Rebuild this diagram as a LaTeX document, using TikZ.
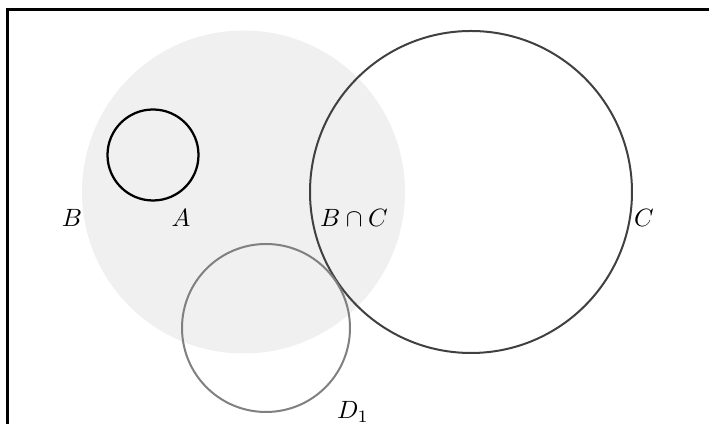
\documentclass[tikz,border=0pt]{standalone}
\begin{document}
\begin{tikzpicture}[x=0.4pt,y=-0.4pt,
  lab/.style={inner sep=0pt, font=\normalsize},
  frameline/.style={line width=1.2pt, black},
  setA/.style={draw=black, line width=0.9pt},
  setC/.style={draw=black!75, line width=0.8pt},
  setD/.style={draw=black!50, line width=0.8pt},
  setB/.style={fill=black!6, draw=none}]
\clip (0,0) rectangle (709,424);
\draw[frameline] (8,440) -- (8,10) -- (720,10);
\fill[setB] (243.5,192) circle[radius=161.5];
\draw[setA] (153,155) circle[radius=45.5];
\draw[setC] (471,192) circle[radius=161];
\draw[setD] (266,328) circle[radius=84];
\node[lab] (lB) at (72,218) {$B$};
\node[lab] (lA) at (181,218) {$A$};
\node[lab] (lBC) at (354,218) {$B\cap C$};
\node[lab] (lC) at (644,218) {$C$};
\node[lab] (lD) at (353,412) {$D_1$};
\end{tikzpicture}
\end{document}
